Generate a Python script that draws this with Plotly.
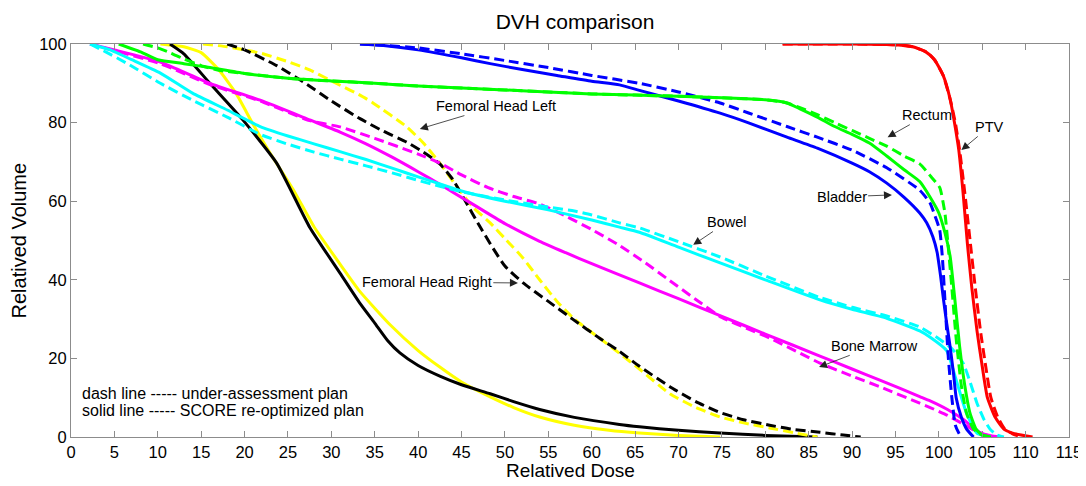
import plotly.graph_objects as go

# ---------------- data ----------------
ptv_solid_x = [82, 90, 95, 97, 98.5, 99.5, 100.5, 101.3, 101.8, 102.3, 102.8, 103.3, 103.8, 104.4, 105, 105.6, 106.5, 107.5, 108.5, 109.5, 110.8]
ptv_solid_y = [100, 100, 99.8, 99.3, 98, 96, 92, 86, 80, 73, 62, 49, 38, 27, 18, 10, 5, 2, 1, 0.5, 0]
ptv_dash_x = [82, 90, 95, 97, 98.5, 99.5, 100.5, 101.3, 101.9, 102.4, 103, 103.6, 104.2, 104.8, 105.4, 106, 106.8, 107.6, 108.5, 109.5]
ptv_dash_y = [100, 100, 99.8, 99.3, 98, 96, 92, 86, 80, 73, 62, 50, 38, 27, 18, 10, 5, 2, 0.8, 0]

rectum_solid_x = [5.5, 8, 10, 13, 16, 20, 25, 30, 35, 40, 45, 50, 55, 60, 65, 70, 75, 80, 82.5, 84, 86, 88, 90, 92, 94, 96, 97.8, 99, 100, 100.7, 101.3, 101.8, 102.4, 103, 103.6, 104.3, 105, 106]
rectum_solid_y = [100, 98, 96, 95, 94, 92.5, 91.3, 90.6, 90, 89.3, 88.8, 88.3, 87.8, 87.3, 87, 86.7, 86.3, 85.8, 85, 83.5, 81.4, 79, 77, 74.8, 71.5, 68, 65, 61, 57, 52, 46, 36, 23, 13, 6, 2, 0.5, 0]
rectum_dash_x = [8.3, 10, 11.5, 13, 15, 17, 20, 25, 30, 35, 40, 45, 50, 55, 60, 65, 70, 75, 80, 82.5, 84, 86, 88, 90, 92, 94, 96, 97.8, 99, 100.1, 100.7, 101.1, 101.5, 102, 102.6, 103.2, 104, 105, 106]
rectum_dash_y = [100, 99, 97.7, 96.2, 94.5, 93.3, 92.5, 91.3, 90.6, 90, 89.3, 88.8, 88.3, 87.8, 87.3, 87, 86.7, 86.3, 85.8, 85, 83.8, 82, 80, 78, 76, 74, 71.5, 69.5, 66.5, 63.5, 57, 48, 38, 25, 13, 6, 2, 0.5, 0]

bladder_solid_x = [33.3, 36, 40, 45, 48.3, 52, 56, 60, 63.2, 65.5, 70, 74.8, 78, 82.5, 86, 90, 92, 94, 96, 97.8, 98.6, 99.3, 99.8, 100.2, 100.5, 100.9, 101.3, 101.7, 102, 102.6, 103.2, 104]
bladder_solid_y = [100, 99.6, 98.5, 96.5, 95, 93.5, 92, 90.5, 89.6, 88.2, 85.5, 82.4, 80, 76.3, 73.5, 69.7, 67.5, 64.6, 61, 57, 54.5, 51, 47, 41, 35.6, 29, 23, 16, 10, 5, 2, 0]
bladder_dash_x = [33.3, 36, 40, 45, 50, 55, 60, 65.5, 70, 74.8, 78, 82.5, 86, 90, 94, 97.8, 99, 99.6, 100.1, 100.4, 100.7, 100.9, 101.1, 101.5, 101.9, 102.3, 102.6]
bladder_dash_y = [100, 99.7, 99, 97.5, 95.8, 94, 92, 90, 87.8, 85, 82.5, 79, 76.3, 73, 68.5, 62.8, 59.5, 56, 52.7, 46, 35, 27, 20, 10, 3, 1, 0]

bowel_solid_x = [2.2, 4.5, 7, 10.3, 14, 18, 21.8, 25, 28, 31, 34, 37, 40, 42.5, 45, 50, 55, 60, 63.2, 65.5, 70, 74.8, 80, 86.3, 90, 94, 97.8, 99, 100.9, 102, 103.2, 104.4, 105.2, 106]
bowel_solid_y = [100, 98.5, 96, 92.6, 87.5, 83.2, 79, 76.6, 74.6, 72.6, 70.6, 68.4, 66.2, 64.4, 62.6, 60, 57.8, 55.2, 53.4, 52.1, 48.3, 44.3, 40, 34.9, 32.5, 30.2, 27, 25.4, 22, 14.5, 6, 1, 0.3, 0]
bowel_dash_x = [2.2, 4, 6.5, 10.3, 14, 18, 21.8, 25, 28, 31, 34, 37, 40, 42.5, 45, 50, 55, 58, 60, 63.2, 65.5, 70, 74.8, 80, 86.3, 90, 94, 97.8, 100, 101.5, 102.8, 103.6, 104.4, 105.2, 105.9, 106.7, 107.5]
bowel_dash_y = [100, 98, 95, 90, 85.7, 81.4, 77, 74.5, 72.5, 70.7, 69, 67.2, 65.3, 63.8, 62.4, 60.3, 58.5, 57.5, 56.5, 54.5, 53.2, 49.7, 45.8, 41, 35.5, 33, 30.8, 28, 25, 22.5, 18.8, 14, 8.6, 4.5, 2, 0.5, 0]

marrow_solid_x = [2.2, 5, 10.3, 16, 21.8, 27.5, 31, 34, 37, 40, 42.5, 44, 47, 50, 54, 57, 60, 65.5, 70, 75, 80, 86.3, 90, 93.2, 97.8, 99, 101, 102.8, 104, 104.7, 106, 107]
marrow_solid_y = [100, 98.5, 95.4, 90, 85.7, 80.7, 77.6, 74.6, 71.2, 67.5, 64.3, 62.3, 58.3, 54.3, 49.8, 46.9, 44.1, 39.2, 35.2, 30.7, 26.2, 20.6, 17.3, 14.5, 10.3, 9.2, 7, 4.5, 2.3, 1.2, 0.3, 0]
marrow_dash_x = [2.2, 5, 10.3, 16, 21.8, 27.5, 31, 35, 40, 42.5, 45, 48, 51, 54, 57, 60, 63, 66, 69, 72, 75, 78, 80.5, 86.3, 90, 93.2, 97.8, 99, 101, 102.8, 104, 105, 106, 107]
marrow_dash_y = [100, 98.3, 95, 89.7, 85.5, 80.5, 78.9, 76, 72, 69.7, 66.7, 63.5, 61.2, 59.3, 56.2, 52.8, 49, 44.6, 39.8, 35, 30.4, 27.5, 25.2, 18.8, 15.5, 12.8, 8.6, 7.5, 5.5, 3.3, 1.8, 0.8, 0.2, 0]

fhl_solid_x = [10.3, 13, 15, 17, 19, 21, 23, 25.6, 28, 31, 33.3, 36.8, 40, 42.5, 45, 48.3, 51, 54, 58, 62, 65.5, 70, 74.8]
fhl_solid_y = [100, 99.3, 97.8, 93.5, 87.5, 79.5, 72, 63, 53.5, 44, 37, 28.5, 22, 17.8, 14, 10.2, 7.5, 5.1, 3, 1.7, 1, 0.4, 0]
fhl_dash_x = [15.2, 18, 21.8, 25, 27.5, 31, 33.3, 34.8, 38.7, 40.6, 42.5, 44.5, 46.3, 48.3, 50, 52.1, 54, 56, 58, 61, 63.2, 65.5, 69, 72, 74.8, 77.5, 80.5, 83.5, 86]
fhl_dash_y = [100, 99.3, 97.7, 95.5, 93.4, 89.5, 87, 85, 78.9, 74.8, 69.7, 63.6, 58.5, 54.5, 50.5, 45.5, 40, 34.5, 30, 25, 21.3, 17.3, 11, 7.5, 5.1, 3.6, 2.3, 1, 0]

fhr_solid_x = [11.4, 13, 16, 19.8, 23.7, 27.5, 31, 33.3, 35, 36.5, 37.9, 40, 42.5, 45, 48.3, 51, 54, 58, 63.2, 65.5, 70, 74.8, 80, 86]
fhr_solid_y = [100, 97.5, 90, 80.7, 69.7, 53.4, 41.7, 34, 29, 24.5, 21.4, 18.2, 15.5, 13.3, 11, 9, 7, 5, 3.2, 2.6, 1.7, 1, 0.4, 0]
fhr_dash_x = [18, 20, 23.7, 27, 30, 33.3, 36, 38.7, 40.6, 42.5, 44, 45.5, 47, 48.5, 50, 52.1, 55, 57.8, 61, 63.2, 65.5, 69, 72, 74.8, 77.5, 80.5, 83, 86.3, 89, 91]
fhr_dash_y = [100, 98.5, 94.5, 90, 85.5, 81, 77.8, 75, 72.5, 69.5, 65.5, 59.8, 54, 48.5, 43.5, 39.2, 34.5, 30, 25, 21.8, 18, 12.8, 9, 6.2, 4.4, 3, 2, 1.2, 0.5, 0]

label_texts = ["Femoral Head Left", "Rectum", "PTV", "Bladder", "Bowel", "Femoral Head Right", "Bone Marrow"]
label_x = [49.0, 98.6, 105.8, 88.8, 75.6, 41.0, 92.6]
label_y = [84.2, 81.9, 78.9, 61.1, 54.7, 39.4, 23.2]
arrow_x = [40.2, 94.1, 102.6, 94.6, 71.7, 51.5, 86.2]
arrow_y = [78.4, 76.3, 73.0, 61.6, 48.9, 39.2, 17.8]

note_lines = ["dash line ----- under-assessment plan", "solid line ----- SCORE re-optimized plan"]

x_ticks = list(range(0, 116, 5))
y_ticks = list(range(0, 101, 20))

# ---------------- figure ----------------
FONT = "Arial, Liberation Sans, sans-serif"
DASH = "10px,5px"
fig = go.Figure()

series = [
    (fhl_solid_x, fhl_solid_y, "#ffff00", "solid"),
    (fhr_solid_x, fhr_solid_y, "#000000", "solid"),
    (fhl_dash_x, fhl_dash_y, "#ffff00", DASH),
    (fhr_dash_x, fhr_dash_y, "#000000", DASH),
    (marrow_solid_x, marrow_solid_y, "#ff00ff", "solid"),
    (marrow_dash_x, marrow_dash_y, "#ff00ff", DASH),
    (bowel_solid_x, bowel_solid_y, "#00ffff", "solid"),
    (bowel_dash_x, bowel_dash_y, "#00ffff", DASH),
    (bladder_solid_x, bladder_solid_y, "#0000ff", "solid"),
    (bladder_dash_x, bladder_dash_y, "#0000ff", DASH),
    (rectum_solid_x, rectum_solid_y, "#00ff00", "solid"),
    (rectum_dash_x, rectum_dash_y, "#00ff00", DASH),
    (ptv_solid_x, ptv_solid_y, "#ff0000", "solid"),
    (ptv_dash_x, ptv_dash_y, "#ff0000", DASH),
]
for xs, ys, col, dash in series:
    fig.add_trace(go.Scatter(x=xs, y=ys, mode="lines",
                             line=dict(color=col, width=3, dash=dash, shape="spline", smoothing=0.5),
                             showlegend=False, hoverinfo="skip"))

for t, tx, ty, axp, ayp in zip(label_texts, label_x, label_y, arrow_x, arrow_y):
    fig.add_annotation(x=axp, y=ayp, ax=tx, ay=ty, xref="x", yref="y", axref="x", ayref="y",
                       text=t, showarrow=True, arrowhead=2, arrowsize=2, arrowwidth=0.8,
                       arrowcolor="#222222", standoff=0, startstandoff=0,
                       font=dict(family=FONT, size=14.5, color="black"))

for i, line in enumerate(note_lines):
    fig.add_annotation(x=1.0, y=11.0 - i * 4.3, xref="x", yref="y", text=line, showarrow=False,
                       xanchor="left", yanchor="middle", font=dict(family=FONT, size=16, color="black"))

fig.add_annotation(x=0.5, y=-0.086, xref="paper", yref="paper", text="Relatived Dose", showarrow=False,
                   xanchor="center", yanchor="middle", font=dict(family=FONT, size=19, color="black"))
fig.add_annotation(x=-0.0531, y=0.5, xref="paper", yref="paper", text="Relatived Volume", showarrow=False,
                   textangle=-90, xanchor="center", yanchor="middle", font=dict(family=FONT, size=20, color="black"))

axis_common = dict(showgrid=False, zeroline=False, showline=True, linecolor="#8c8c8c", linewidth=1,
                   mirror="ticks", ticks="inside", ticklen=6, tickcolor="#8c8c8c", automargin=False,
                   tickfont=dict(family=FONT, size=16.5, color="black"))
fig.update_xaxes(range=[0, 115], tickvals=x_ticks, ticktext=[str(v) for v in x_ticks], **axis_common)
fig.update_yaxes(range=[0, 100], tickvals=y_ticks, ticktext=[str(v) for v in y_ticks], **axis_common)

# The page adds an 8px body margin, so the figure is sized/placed to compensate.
fig.update_layout(
    width=1078, height=478,
    margin=dict(l=63, r=17, t=36, b=49, autoexpand=False),
    paper_bgcolor="white", plot_bgcolor="white",
    title=dict(text="DVH comparison", x=0.526, xanchor="center", y=0.972, yanchor="middle",
               font=dict(family=FONT, size=21, color="black")),
)

fig.write_html("out.html")
